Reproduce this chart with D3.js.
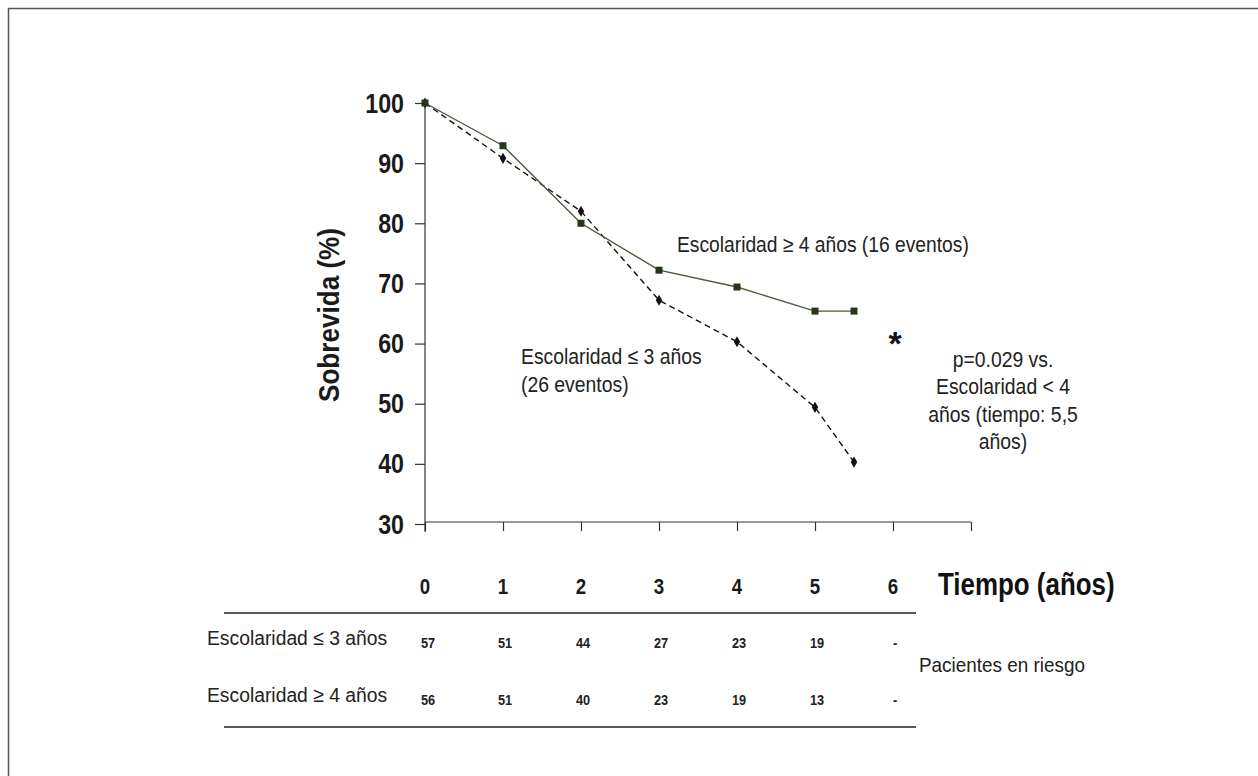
<!DOCTYPE html>
<html><head><meta charset="utf-8">
<script src="https://cdn.jsdelivr.net/npm/d3@7"></script>
<style>
html,body{margin:0;padding:0;background:#fff;}
svg{display:block;}
</style></head>
<body>
<svg id="chart" width="1258" height="776"></svg>
<script>
// ---- data ----
const timeYears = [0, 1, 2, 3, 4, 5, 5.5];
const survivalHigh = [100, 92.9, 80.0, 72.2, 69.4, 65.4, 65.4];   // Escolaridad >= 4 años
const survivalLow  = [100, 90.8, 82.0, 67.2, 60.3, 49.4, 40.3];   // Escolaridad <= 3 años
const yTickValues = [30, 40, 50, 60, 70, 80, 90, 100];
const xTickValues = [0, 1, 2, 3, 4, 5, 6, 7];
const xTickLabels = ["0", "1", "2", "3", "4", "5", "6"];
const riskRowLabels = ["Escolaridad  \u2264 3 años", "Escolaridad \u2265 4 años"];
const riskLow  = ["57", "51", "44", "27", "23", "19", "-"];
const riskHigh = ["56", "51", "40", "23", "19", "13", "-"];

const FONT = "'Liberation Sans',Arial,sans-serif";
const svg = d3.select("#chart");

// horizontally condensed text helper (mimics Arial Narrow)
function txt(parent, s, xx, yy, o) {
  o = o || {};
  const sx = o.sx || 0.88;
  const g = parent.append("g").attr("transform", `translate(${xx},${yy}) scale(${sx},1)`);
  const t = g.append("text").attr("x", 0).attr("y", 0)
    .attr("font-family", FONT).attr("font-size", o.size || 22)
    .attr("font-weight", o.bold ? "bold" : "normal")
    .attr("fill", o.fill || "#222").attr("text-anchor", o.anchor || "start").text(s);
  return t;
}

// frame (left & top)
svg.append("path").attr("d", "M8.5,776 L8.5,8.5 L1258,8.5")
  .attr("fill", "none").attr("stroke", "#555").attr("stroke-width", 1.5);

const x = d3.scaleLinear().domain([0, 7]).range([425, 971]);
const y = d3.scaleLinear().domain([30, 100]).range([524, 103]);

// y axis
const yAxis = svg.append("g").attr("transform", `translate(${x(0)},0)`)
  .call(d3.axisLeft(y).tickValues(yTickValues).tickSize(10).tickFormat(""));
yAxis.select(".domain").remove();
yAxis.append("line").attr("x1", 0).attr("x2", 0).attr("y1", y(100)).attr("y2", y(30) + 8)
  .attr("stroke", "#333").attr("stroke-width", 1.2);
yAxis.selectAll(".tick line").attr("stroke", "#333").attr("stroke-width", 1.2);
const yLab = svg.append("g");
yTickValues.forEach(v => txt(yLab, String(v), 404, y(v) + 9.5, {size: 27, bold: true, anchor: "end", sx: 0.86, fill: "#1a1a1a"}));

// x axis
const xAxis = svg.append("g").attr("transform", `translate(0,${y(30) - 2})`)
  .call(d3.axisBottom(x).tickValues(xTickValues).tickSize(9).tickFormat(""));
xAxis.select(".domain").remove();
xAxis.append("line").attr("x1", x(0)).attr("x2", x(7)).attr("y1", 0).attr("y2", 0)
  .attr("stroke", "#333").attr("stroke-width", 1.2);
xAxis.selectAll(".tick line").attr("stroke", "#333").attr("stroke-width", 1.2);

// x tick labels (table header)
const xLab = svg.append("g");
xTickLabels.forEach((s, i) => txt(xLab, s, x(xTickValues[i]), 594, {size: 22, bold: true, anchor: "middle", sx: 0.85, fill: "#1a1a1a"}));
txt(svg, "Tiempo (años)", 938, 595, {size: 32, bold: true, sx: 0.81, fill: "#111"});

// y label
svg.append("g").attr("transform", "translate(339,315) rotate(-90) scale(0.9,1)")
  .append("text").attr("text-anchor", "middle").attr("font-family", FONT).attr("font-weight", "bold")
  .attr("font-size", 29).attr("fill", "#1a1a1a").text("Sobrevida (%)");

// lines
const highPts = timeYears.map((t, i) => [t, survivalHigh[i]]);
const lowPts = timeYears.map((t, i) => [t, survivalLow[i]]);
const line = d3.line().x(d => x(d[0])).y(d => y(d[1]));

svg.append("path").datum(lowPts).attr("d", line).attr("fill", "none")
  .attr("stroke", "#111").attr("stroke-width", 1.4).attr("stroke-dasharray", "6,4");
svg.append("path").datum(highPts).attr("d", line).attr("fill", "none")
  .attr("stroke", "#4a5a3a").attr("stroke-width", 1.4);

svg.append("g").selectAll("path").data(lowPts).join("path")
  .attr("d", d3.symbol().type(d3.symbolDiamond).size(36))
  .attr("transform", d => `translate(${x(d[0])},${y(d[1])})`).attr("fill", "#111");
svg.append("g").selectAll("rect").data(highPts).join("rect")
  .attr("x", d => x(d[0]) - 3.5).attr("y", d => y(d[1]) - 3.5)
  .attr("width", 7).attr("height", 7).attr("fill", "#26361a");

// annotations
txt(svg, "Escolaridad  \u2265 4 años (16 eventos)", 677, 252, {size: 22, sx: 0.875});
txt(svg, "Escolaridad  \u2264 3 años", 521, 364, {size: 22, sx: 0.88});
txt(svg, "(26 eventos)", 521, 392, {size: 22, sx: 0.88});
svg.append("text").attr("x", 895).attr("y", 355).attr("text-anchor", "middle")
  .attr("font-family", FONT).attr("font-weight", "bold")
  .attr("font-size", 34).attr("fill", "#111").text("*");
txt(svg, "p=0.029 vs.", 1003, 367, {size: 22, anchor: "middle", sx: 0.88});
txt(svg, "Escolaridad  < 4", 1003, 394, {size: 22, anchor: "middle", sx: 0.88});
txt(svg, "años (tiempo: 5,5", 1003, 422, {size: 22, anchor: "middle", sx: 0.88});
txt(svg, "años)", 1003, 449, {size: 22, anchor: "middle", sx: 0.88});

// risk table
svg.append("line").attr("x1", 224).attr("x2", 916).attr("y1", 613).attr("y2", 613)
  .attr("stroke", "#222").attr("stroke-width", 1.4);
svg.append("line").attr("x1", 224).attr("x2", 916).attr("y1", 727).attr("y2", 727)
  .attr("stroke", "#222").attr("stroke-width", 1.4);

const rowY = [645, 702];
riskRowLabels.forEach((lab, r) => txt(svg, lab, 207, rowY[r], {size: 21, sx: 0.92}));
[riskLow, riskHigh].forEach((row, r) => {
  const g = svg.append("g");
  row.forEach((s, i) => txt(g, s, x(xTickValues[i]) + (i === 0 ? 3 : 2), rowY[r] + 3,
    {size: 15, bold: true, anchor: "middle", sx: 0.85, fill: "#222"}));
});
txt(svg, "Pacientes en riesgo", 919, 672, {size: 21, sx: 0.9});
</script>
</body></html>
